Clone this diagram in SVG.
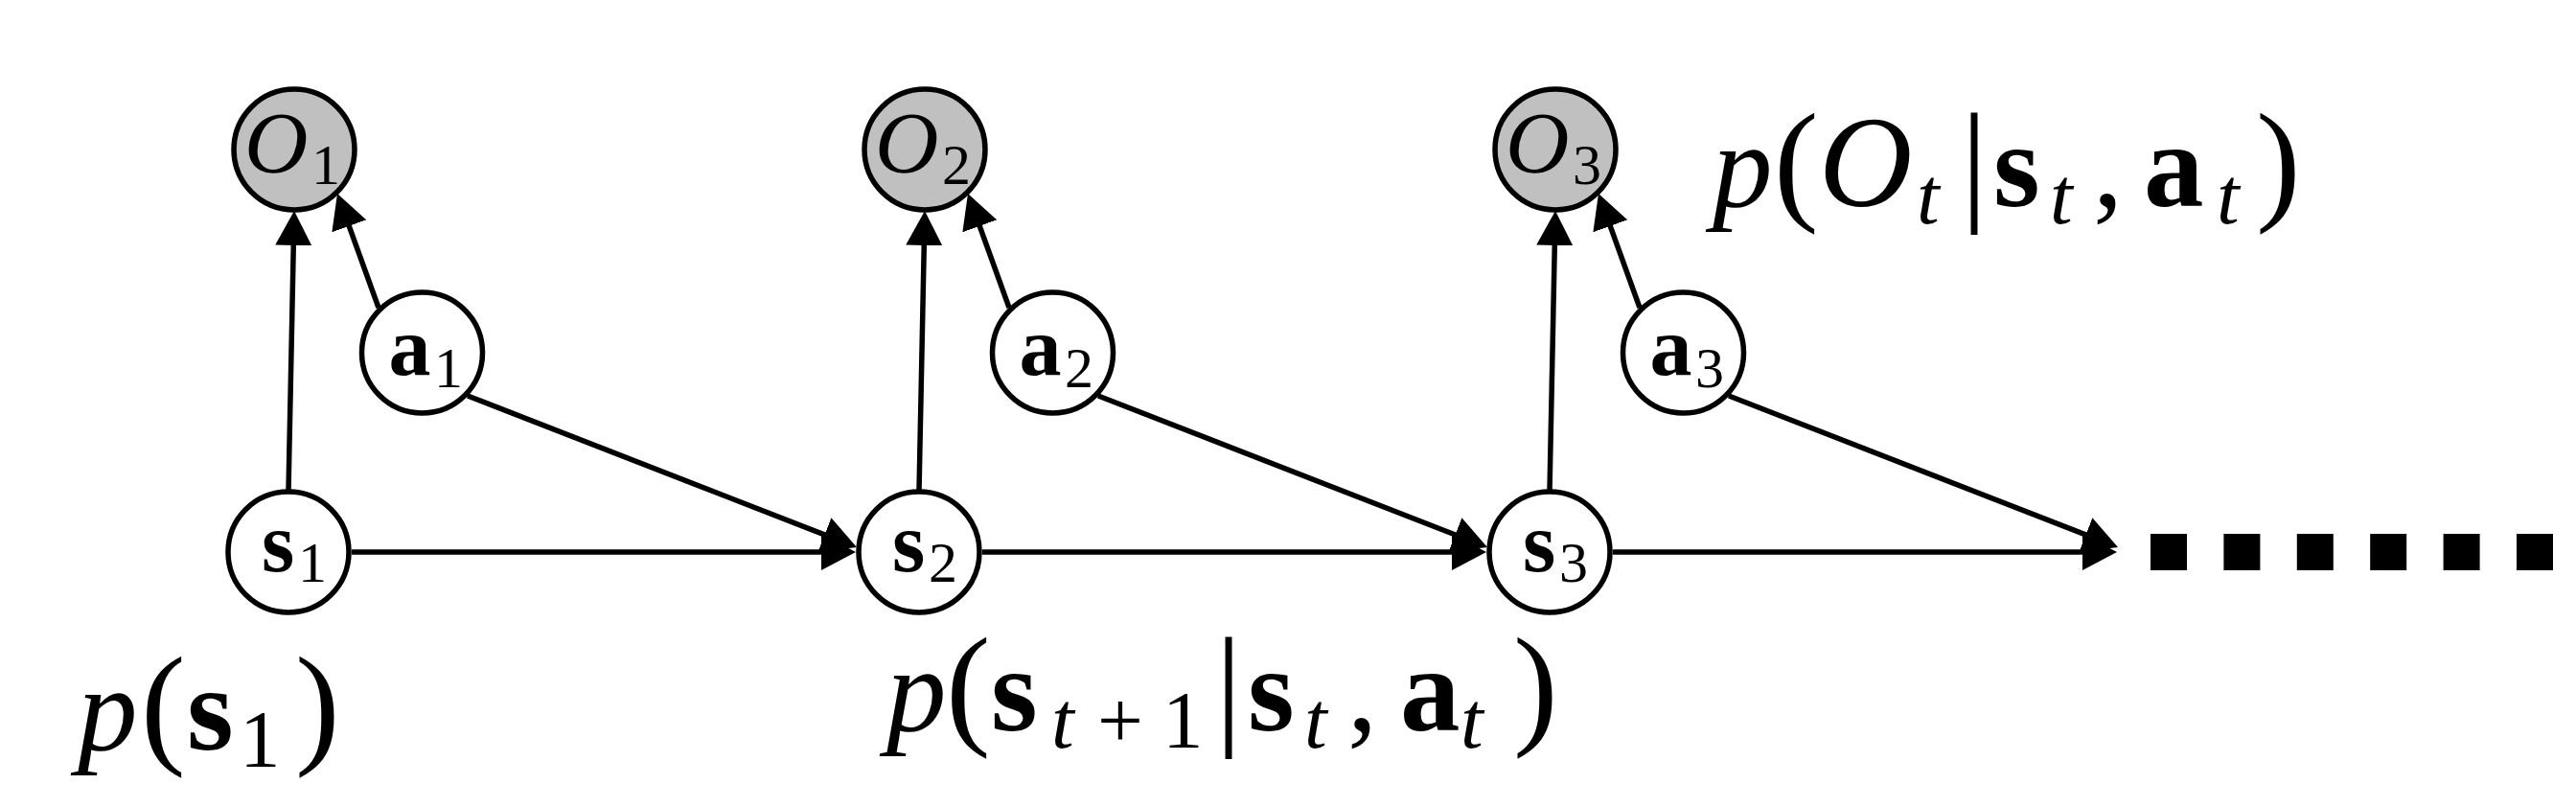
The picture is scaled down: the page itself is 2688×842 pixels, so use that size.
<svg xmlns="http://www.w3.org/2000/svg" width="2688" height="842" viewBox="0 0 2688 842">
<style>
.nd circle{fill:#fff;stroke:#000;stroke-width:5.5}
.ob circle{fill:#c0c0c0;stroke:#000;stroke-width:5.5}
text{font-family:"Liberation Serif","Times New Roman",serif;fill:#000}
.b{font-weight:bold;font-size:88px}
.o{font-style:italic;font-size:92px}
.sub{font-size:60px}
.eq{font-size:125px}
.i{font-style:italic}
.bd{font-weight:bold}
.pr{font-size:140px}
.es{font-size:85px}
#edges line{stroke:#000;stroke-width:5.5;marker-end:url(#ah)}
</style>
<defs>
<marker id="ah" markerUnits="userSpaceOnUse" markerWidth="36" markerHeight="38" viewBox="0 0 36 38" refX="26" refY="19" orient="auto">
<path d="M0,0 L36,19 L0,38 z" fill="#000"/>
</marker>
</defs>
<rect width="2688" height="842" fill="#fff"/>
<g id="edges">
<line x1="301" y1="512" x2="306.8" y2="230"/>
<line x1="959" y1="512" x2="964.8" y2="230"/>
<line x1="1617" y1="512" x2="1622.8" y2="230"/>
<line x1="395" y1="321" x2="355.4" y2="211.4"/>
<line x1="1053" y1="321" x2="1013.4" y2="211.4"/>
<line x1="1711" y1="321" x2="1671.4" y2="211.4"/>
<line x1="488" y1="413" x2="884.7" y2="567.4"/>
<line x1="1146" y1="413" x2="1542.7" y2="567.4"/>
<line x1="1804" y1="413" x2="2200.7" y2="567.4"/>
<line x1="367" y1="576" x2="883" y2="576"/>
<line x1="1025" y1="576" x2="1541" y2="576"/>
<line x1="1683" y1="576" x2="2199" y2="576"/>
</g>
<g id="ellipsis" fill="#000">
<rect x="2244" y="557" width="38" height="38"/>
<rect x="2320.4" y="557" width="38" height="38"/>
<rect x="2396.8" y="557" width="38" height="38"/>
<rect x="2473.2" y="557" width="38" height="38"/>
<rect x="2549.6" y="557" width="38" height="38"/>
<rect x="2626" y="557" width="38" height="38"/>
</g>
<g id="O1" class="ob"><circle cx="307" cy="156" r="63"/><text><tspan class="o" x="255" y="180">O</tspan><tspan class="sub" x="325" y="192">1</tspan></text></g>
<g id="O2" class="ob"><circle cx="965" cy="156" r="63"/><text><tspan class="o" x="913" y="180">O</tspan><tspan class="sub" x="983" y="192">2</tspan></text></g>
<g id="O3" class="ob"><circle cx="1623" cy="156" r="63"/><text><tspan class="o" x="1571" y="180">O</tspan><tspan class="sub" x="1641" y="192">3</tspan></text></g>
<g id="a1" class="nd"><circle cx="440.5" cy="368" r="63"/><text><tspan class="b" x="405.5" y="391">a</tspan><tspan class="sub" x="453" y="404">1</tspan></text></g>
<g id="a2" class="nd"><circle cx="1098.5" cy="368" r="63"/><text><tspan class="b" x="1063.5" y="391">a</tspan><tspan class="sub" x="1111" y="404">2</tspan></text></g>
<g id="a3" class="nd"><circle cx="1756.5" cy="368" r="63"/><text><tspan class="b" x="1721.5" y="391">a</tspan><tspan class="sub" x="1769" y="404">3</tspan></text></g>
<g id="s1" class="nd"><circle cx="301" cy="576" r="63"/><text><tspan class="b" x="273" y="596">s</tspan><tspan class="sub" x="311" y="607">1</tspan></text></g>
<g id="s2" class="nd"><circle cx="959" cy="576" r="63"/><text><tspan class="b" x="931" y="596">s</tspan><tspan class="sub" x="969" y="607">2</tspan></text></g>
<g id="s3" class="nd"><circle cx="1617" cy="576" r="63"/><text><tspan class="b" x="1589" y="596">s</tspan><tspan class="sub" x="1627" y="607">3</tspan></text></g>
<g id="label-obs">
<text class="eq"><tspan class="i" x="1787" y="215">p</tspan><tspan class="pr" x="1851" y="215">(</tspan><tspan class="i" style="font-size:135px" x="1898" y="215">O</tspan><tspan class="i es" x="2000" y="233">t</tspan><tspan class="pr" x="2046" y="215">|</tspan><tspan class="bd" x="2080" y="215">s</tspan><tspan class="i es" x="2139" y="233">t</tspan><tspan x="2184" y="215">,</tspan><tspan class="bd" x="2237" y="215">a</tspan><tspan class="i es" x="2313" y="233">t</tspan><tspan class="pr" x="2354" y="215">)</tspan></text>
</g>
<g id="label-init">
<text class="eq"><tspan class="i" x="81" y="782">p</tspan><tspan class="pr" x="147" y="782">(</tspan><tspan class="bd" x="195" y="782">s</tspan><tspan class="es" x="250" y="800">1</tspan><tspan class="pr" x="308" y="782">)</tspan></text>
</g>
<g id="label-trans">
<text class="eq"><tspan class="i" x="925" y="762">p</tspan><tspan class="pr" x="987" y="762">(</tspan><tspan class="bd" x="1034" y="762">s</tspan><tspan class="i es" x="1097" y="780">t</tspan><tspan class="es" x="1145" y="780">+</tspan><tspan class="es" x="1213" y="780">1</tspan><tspan class="pr" x="1268" y="762">|</tspan><tspan class="bd" x="1302" y="762">s</tspan><tspan class="i es" x="1361" y="780">t</tspan><tspan x="1406" y="762">,</tspan><tspan class="bd" x="1461" y="762">a</tspan><tspan class="i es" x="1524" y="780">t</tspan><tspan class="pr" x="1579" y="762">)</tspan></text>
</g>
</svg>
